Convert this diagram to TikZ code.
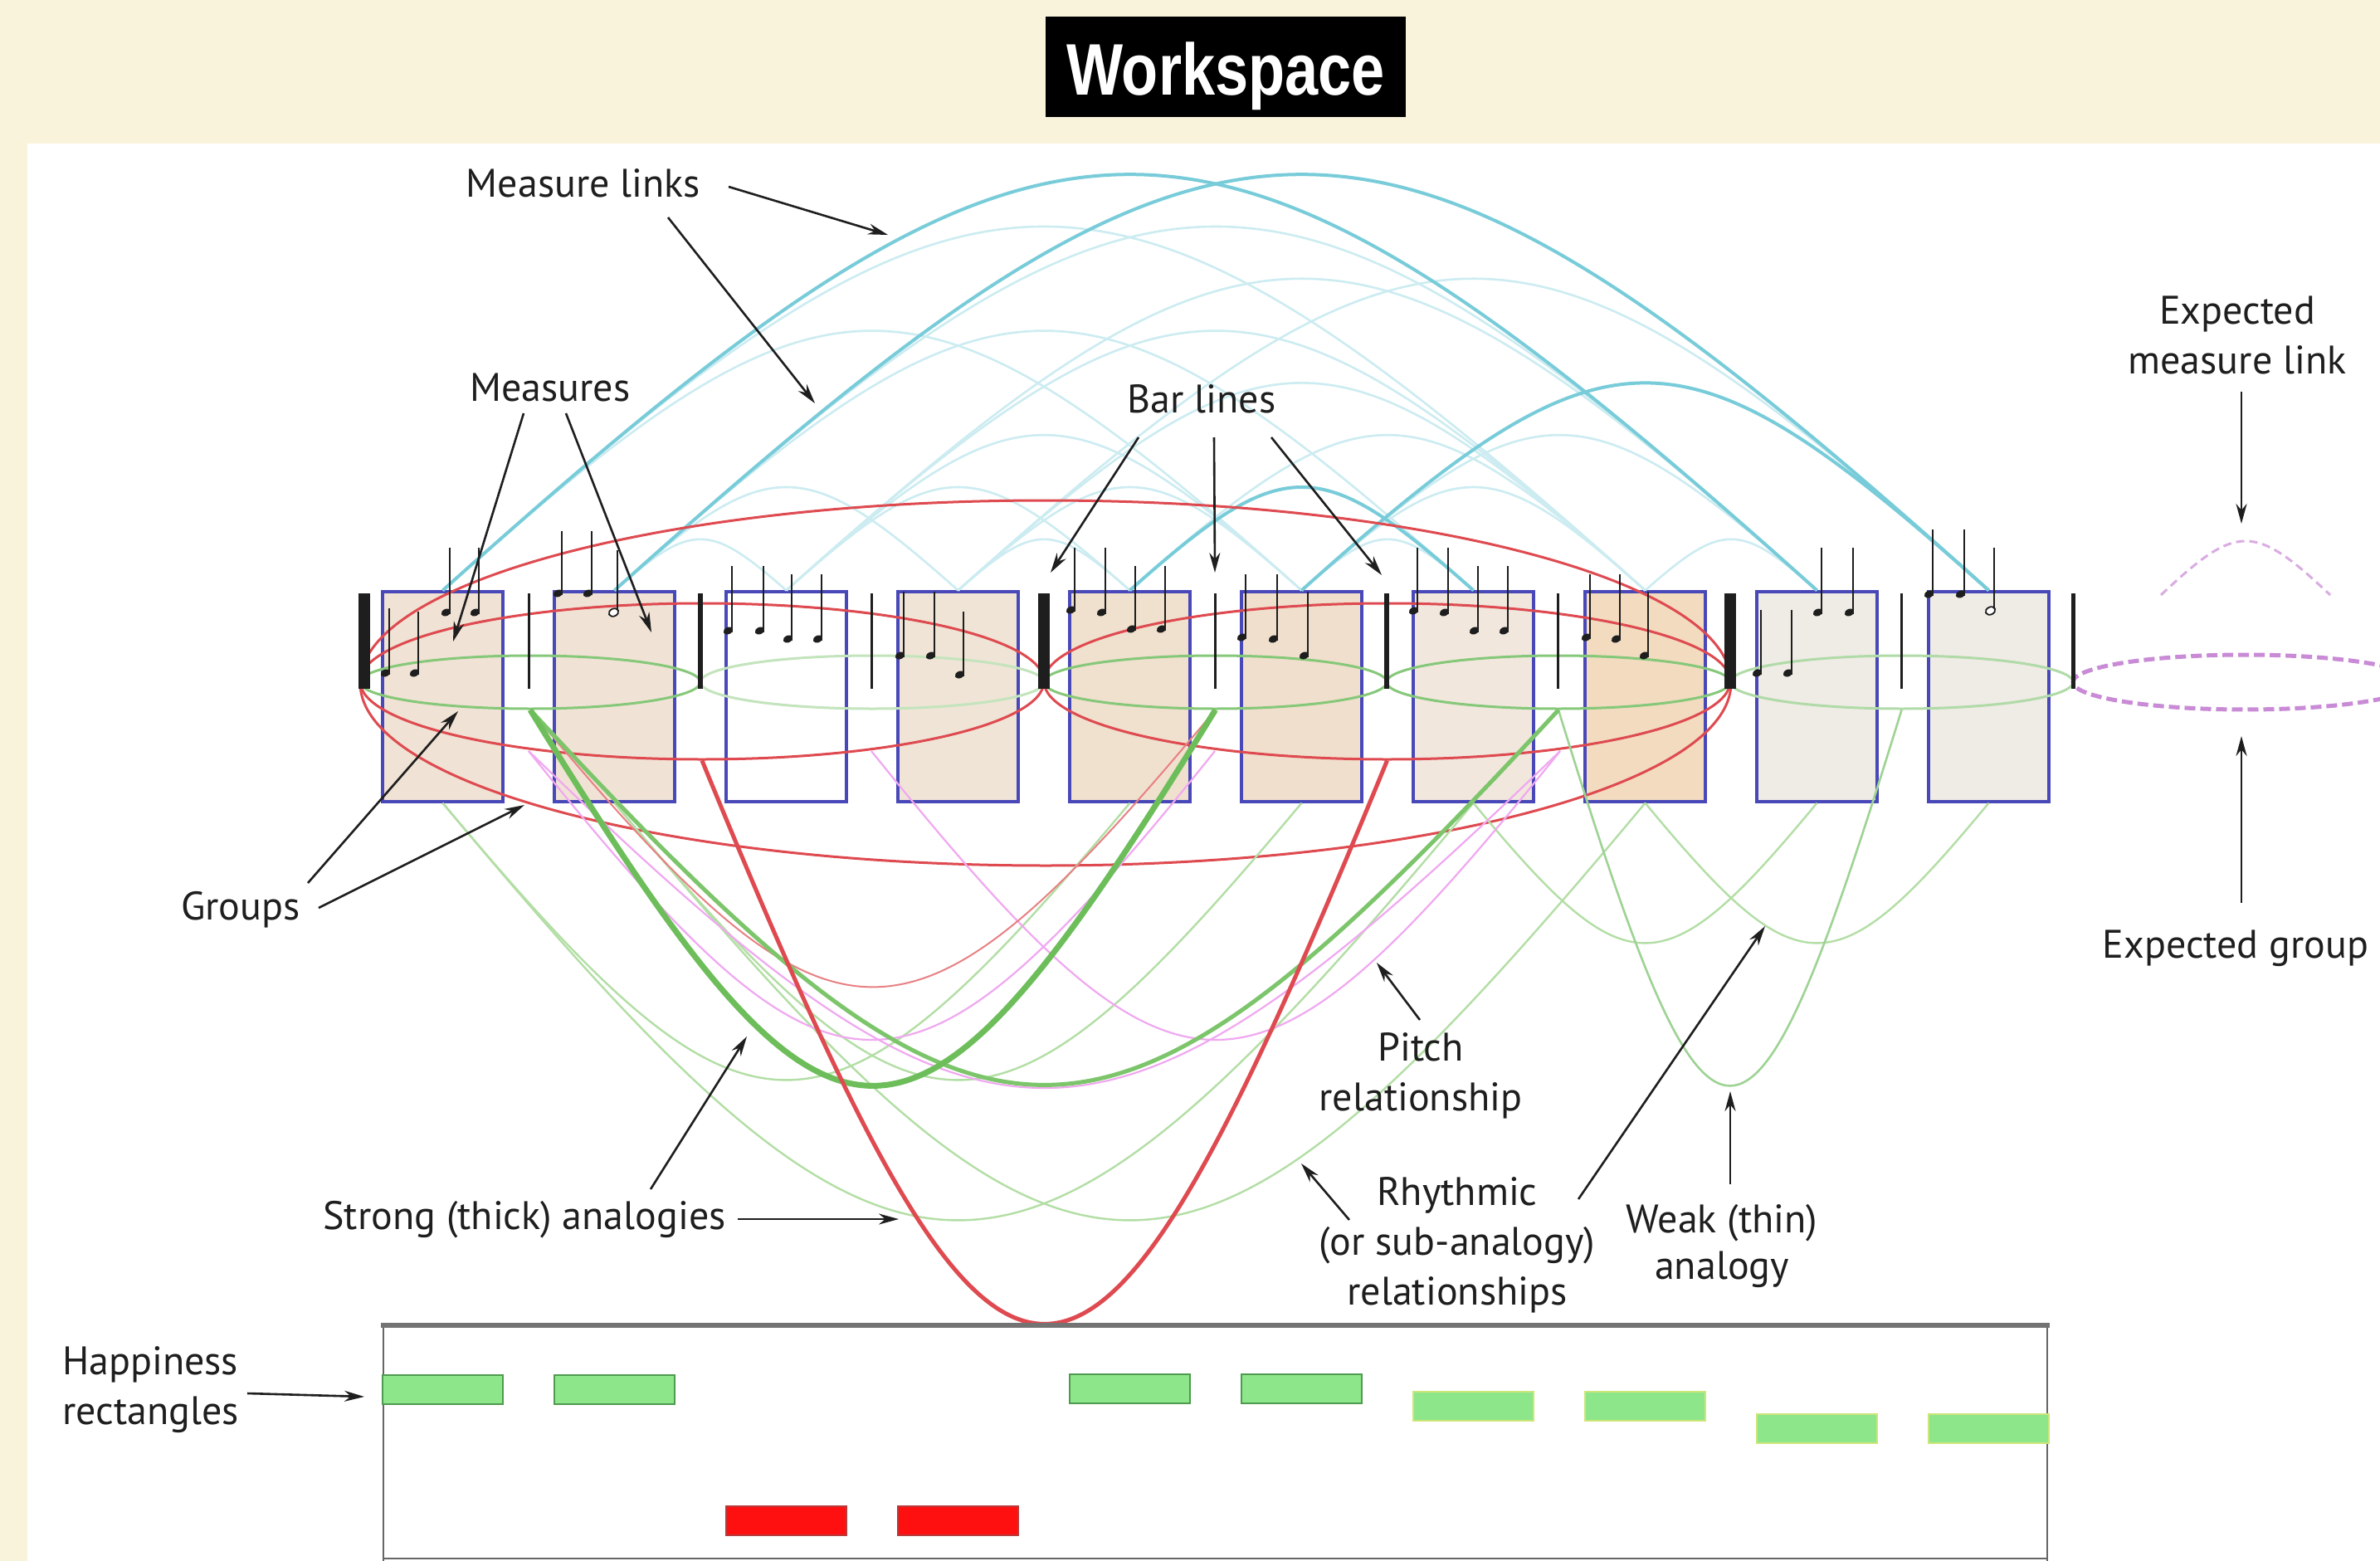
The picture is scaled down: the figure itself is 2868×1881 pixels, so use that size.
\documentclass[tikz,border=0pt]{standalone}
\usepackage{fontspec}
\usepackage{graphicx}
\setmainfont{PT Sans}
\newfontfamily\titlefont{Liberation Sans}
\usetikzlibrary{arrows.meta,shapes.geometric}
\definecolor{cream}{HTML}{F9F3DC}
\definecolor{linkcyan}{HTML}{78CCD9}
\definecolor{mblue}{HTML}{4848B8}
\definecolor{gstrong}{HTML}{6DBE5A}
\definecolor{gring}{HTML}{86C879}
\definecolor{gfaintc}{HTML}{B3DEA5}
\definecolor{redc}{HTML}{DE4A50}
\definecolor{pinkc}{HTML}{F0A8F0}
\definecolor{magc}{HTML}{C98AD6}
\definecolor{hgreen}{HTML}{8EE68A}
\definecolor{hgreenb}{HTML}{4E9A4E}
\definecolor{hyel}{HTML}{CDE67A}
\definecolor{hred}{HTML}{FF1010}
\definecolor{hredb}{HTML}{B83A3A}
\definecolor{inkc}{HTML}{1E1E1E}
\newcommand\bowpath[7]{%
  \pgfmathsetmacro\cxa{#4+0.45*(#5-#4)}%
  \pgfmathsetmacro\cxb{#5-0.45*(#5-#4)}%
  \pgfmathsetmacro\cyy{#6+(#7-#6)/0.75}%
  \draw[#1] (#2) .. controls (\cxa,\cyy) and (\cxb,\cyy) .. (#3);}
\newcommand\mnote[3]{%
  \draw[stemline] (#1,#2) -- (#1,#3);
  \fill[inkc] (#1-4.5,#3-2) ellipse [x radius=6pt, y radius=4.2pt, rotate=25];}
\newcommand\mnoteo[3]{%
  \draw[stemline] (#1,#2) -- (#1,#3-3);
  \draw[inkc, line width=1.8pt, fill=white] (#1-4.5,#3-2) ellipse [x radius=6pt, y radius=4.5pt, rotate=25];}
\begin{document}
\begin{tikzpicture}[x=1pt,y=-1pt,
  lbl/.style={font=\fontsize{48}{60}\selectfont, text=inkc, inner sep=0pt, align=center},
  pointer/.style={draw=inkc, line width=2.6pt, -{Stealth[length=24pt,width=13pt]}},
  measurebox/.style={draw=mblue, line width=3.2pt, minimum width=145pt, minimum height=253pt, inner sep=0pt},
  grp/.style={ellipse, draw=gring, line width=3pt, minimum width=#1, minimum height=64pt, inner sep=0pt},
  redgrp/.style={ellipse, draw=redc, line width=3pt, inner sep=0pt},
  faintlink/.style={draw=linkcyan!38, line width=2.6pt},
  solidlink/.style={draw=linkcyan, line width=4pt},
  gthin/.style={draw=gfaintc, line width=2.4pt},
  gweak/.style={draw=gring!80, line width=2.6pt},
  gthickA/.style={draw=gstrong, line width=7pt},
  gthickB/.style={draw=gstrong!90, line width=5pt},
  redthin/.style={draw=redc!70, line width=2pt},
  redthick/.style={draw=redc, line width=5pt},
  pinkrel/.style={draw=pinkc, line width=2.2pt},
  explink/.style={draw=magc!70, line width=3pt, dash pattern=on 10pt off 6pt},
  stemline/.style={draw=inkc, line width=2.8pt},
  happy/.style={minimum width=145pt, minimum height=35pt, inner sep=0pt, line width=2.5pt}
]
\useasboundingbox (0,0) rectangle (2868,1881);
\fill[cream] (0,0) rectangle (2868,1881);
\fill[white] (33,173) rectangle (2868,1881);

% title
\node[fill=black, minimum width=434pt, minimum height=121pt, inner sep=0pt] (titlebox) at (1477,80.5) {};
\node[anchor=base, text=white, font=\titlefont\bfseries\fontsize{88}{88}\selectfont, inner sep=0pt] (titletext) at (1477,115) {\scalebox{0.82}[1]{Workspace}};

% measure boxes
\foreach \i/\c in {1/F0E2D4,2/F0E3D5,3/FFFFFF,4/F0E4D6,5/F0E0CE,6/F0DFCC,7/F1E7DD,8/F2DBBF,9/EFEBE5,10/EFEBE5}{
  \definecolor{boxfill}{HTML}{\c}
  \node[measurebox, fill=boxfill] (m\i) at ({533.5+207*(\i-1)},839.5) {};
}

% measure links (faint)
\foreach \a/\b in {1/8,2/9,1/6,2/7,3/8,3/9,4/10,4/8,5/8,6/9,2/4,3/5,4/6,6/8,8/9,3/6,2/3,4/5,6/7}{
  \pgfmathsetmacro\xa{533.5+207*(\a-1)}
  \pgfmathsetmacro\xb{533.5+207*(\b-1)}
  \pgfmathsetmacro\ye{713-62.8*(\b-\a)}
  \bowpath{faintlink}{m\a.north}{m\b.north}{\xa}{\xb}{713}{\ye}
}
% measure links (strong)
\foreach \a/\b in {1/9,2/10,5/7,6/10}{
  \pgfmathsetmacro\xa{533.5+207*(\a-1)}
  \pgfmathsetmacro\xb{533.5+207*(\b-1)}
  \pgfmathsetmacro\ye{713-62.8*(\b-\a)}
  \bowpath{solidlink}{m\a.north}{m\b.north}{\xa}{\xb}{713}{\ye}
}

% groups
\node[grp=410pt] (g1) at (639,822) {};
\node[grp=414pt, draw=gring!50] (g2) at (1051,822) {};
\node[grp=413pt] (g3) at (1464.5,822) {};
\node[grp=414pt] (g4) at (1878,822) {};
\node[grp=413pt, draw=gring!65] (g5) at (2291.5,822) {};
\node[redgrp, minimum width=824pt, minimum height=188pt] (r1) at (846,821) {};
\node[redgrp, minimum width=827pt, minimum height=188pt] (r2) at (1671.5,821) {};
\node[redgrp, minimum width=1652pt, minimum height=440pt] (rbig) at (1260,823) {};

% expected group and expected link
\node[ellipse, draw=magc, line width=5pt, dash pattern=on 13pt off 6pt, minimum width=414pt, minimum height=66pt, inner sep=0pt] (eg) at (2705,822) {};
\coordinate (el1) at (2604,717);
\coordinate (el2) at (2808,717);
\bowpath{explink}{el1}{el2}{2604}{2808}{717}{652}

% pitch start points
\coordinate (p1) at (637,905);
\coordinate (p2) at (1050,905);
\coordinate (p3) at (1464,905);
\coordinate (p4) at (1880,905);

% lower relationships
\bowpath{gthin}{m1.south}{m5.south}{533.5}{1361.5}{966}{1301}
\bowpath{gthin}{m2.south}{m6.south}{740.5}{1568.5}{966}{1301}
\bowpath{gthin}{m1.south}{m7.south}{533.5}{1775.5}{966}{1470}
\bowpath{gthin}{m2.south}{m8.south}{740.5}{1982.5}{966}{1470}
\bowpath{gthin}{m7.south}{m9.south}{1775.5}{2189.5}{966}{1136}
\bowpath{gthin}{m8.south}{m10.south}{1982.5}{2396.5}{966}{1136}
\bowpath{pinkrel}{p1}{p3}{637}{1464}{905}{1253}
\bowpath{pinkrel}{p2}{p4}{1050}{1880}{905}{1253}
\bowpath{pinkrel}{p1}{p4}{637}{1880}{905}{1311}
\bowpath{redthin}{g1.south}{g3.south}{639}{1464.5}{854}{1189}
\bowpath{gweak}{g4.south}{g5.south}{1878}{2291.5}{854}{1308}
\bowpath{gthickB}{g1.south}{g4.south}{639}{1878}{854}{1307}
\bowpath{gthickA}{g1.south}{g3.south}{639}{1464.5}{854}{1308}
\bowpath{redthick}{r1.south}{r2.south}{846}{1671.5}{915}{1595}

% bar lines
\foreach \x/\w in {439/14,637/3,844/6,1050/3,1258/14,1464/3,1671/6,1877/3,2085/14,2291/3,2498/5}{
  \draw[inkc, line width=\w pt] (\x,715) -- (\x,830);
}

% notes
\foreach \x/\t/\b in {469/733/813,504/737/813,542/660/740,577/660/740,
  677/640/717,713/640/717,
  882/682/762,920/682/762,954/692/772,990/692/772,
  1089/713/792,1126/713/792,1161/737/815,
  1295/660/737,1332/660/740,1368/682/760,1404/682/760,
  1501/692/770,1539/692/772,1576/713/792,
  1708/660/738,1745/660/740,1781/682/762,1817/682/762,
  1916/692/770,1952/692/772,1986/713/792,
  2122/735/813,2159/735/813,2195/660/740,2233/660/740,
  2329/638/718,2367/638/718}{
  \mnote{\x}{\t}{\b}
}
\mnoteo{744}{663}{740}
\mnoteo{2403}{660}{738}

% happiness panel
\draw[black!60, line width=2.5pt] (462,1597) -- (462,1895);
\draw[black!60, line width=2.5pt] (2467,1597) -- (2467,1895);
\draw[black!55, line width=6pt] (459,1597) -- (2470,1597);
\draw[black!60, line width=2.5pt] (462,1878) -- (2467,1878);
\foreach \i/\y in {1/1674.5,2/1674.5,5/1673.5,6/1673.5}{
  \node[happy, fill=hgreen, draw=hgreenb] (h\i) at ({533.5+207*(\i-1)},\y) {};
}
\foreach \i/\y in {7/1694.5,8/1694.5,9/1721.5,10/1721.5}{
  \node[happy, fill=hgreen, draw=hyel] (h\i) at ({533.5+207*(\i-1)},\y) {};
}
\foreach \i/\y in {3/1832.5,4/1832.5}{
  \node[happy, fill=hred, draw=hredb] (h\i) at ({533.5+207*(\i-1)},\y) {};
}

% labels (anchor=base = baseline of last line)
\node[lbl, anchor=base] (lLinks) at (703,237) {Measure links};
\node[lbl, anchor=base] (lMeasures) at (663,483) {Measures};
\node[lbl, anchor=base] (lBars) at (1448,497) {Bar lines};
\node[lbl, anchor=base] (lExpLink) at (2696,450) {Expected\\measure link};
\node[lbl, anchor=base] (lGroups) at (290,1108) {Groups};
\node[lbl, anchor=base] (lExpGroup) at (2694,1154) {Expected group};
\node[lbl, anchor=base] (lPitch) at (1712,1338) {Pitch\\relationship};
\node[lbl, anchor=base] (lRhythm) at (1756,1572) {Rhythmic\\(or sub-analogy)\\relationships};
\node[lbl, anchor=base, font=\fontsize{48}{56}\selectfont] (lWeak) at (2075,1541) {Weak (thin)\\analogy};
\node[lbl, anchor=base] (lStrong) at (632,1481) {Strong (thick) analogies};
\node[lbl, anchor=base west, align=left] (lHappy) at (75,1716) {Happiness\\rectangles};

% arrows
\coordinate (a1s) at (878,225);   \coordinate (a1t) at (1070,283);
\coordinate (a2s) at (805,262);   \coordinate (a2t) at (982,486);
\coordinate (a3s) at (631,498);   \coordinate (a3t) at (546,773);
\coordinate (a4s) at (682,498);   \coordinate (a4t) at (785,762);
\coordinate (a5s) at (1372,527);  \coordinate (a5t) at (1266,690);
\coordinate (a6s) at (1463,527);  \coordinate (a6t) at (1464,690);
\coordinate (a7s) at (1532,527);  \coordinate (a7t) at (1665,693);
\coordinate (a8s) at (2701,472);  \coordinate (a8t) at (2701,631);
\coordinate (a9s) at (2701,1088); \coordinate (a9t) at (2701,887);
\coordinate (a10s) at (371,1064); \coordinate (a10t) at (552,857);
\coordinate (a11s) at (384,1094); \coordinate (a11t) at (632,970);
\coordinate (a12s) at (1711,1229); \coordinate (a12t) at (1659,1160);
\coordinate (a13s) at (1626,1470); \coordinate (a13t) at (1568,1402);
\coordinate (a14s) at (1902,1445); \coordinate (a14t) at (2127,1116);
\coordinate (a15s) at (2085,1427); \coordinate (a15t) at (2085,1315);
\coordinate (a16s) at (784,1433);  \coordinate (a16t) at (900,1249);
\coordinate (a17s) at (889,1469);  \coordinate (a17t) at (1083,1469);
\coordinate (a18s) at (298,1679);  \coordinate (a18t) at (439,1683);
\foreach \k in {1,...,18}{
  \draw[pointer] (a\k s) -- (a\k t);
}
\end{tikzpicture}
\end{document}
